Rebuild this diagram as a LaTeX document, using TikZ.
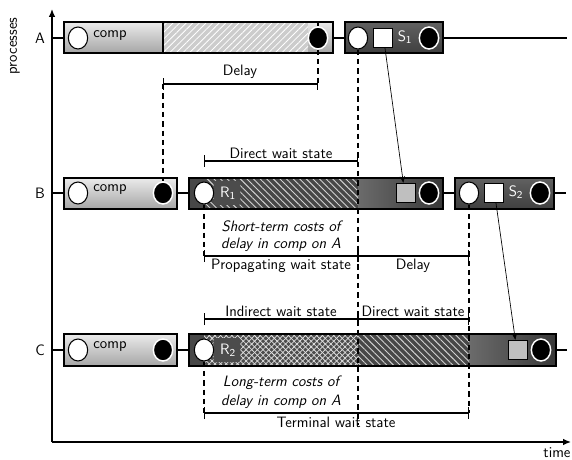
\documentclass[tikz,border=0pt]{standalone}
\usetikzlibrary{patterns,patterns.meta,arrows.meta,shapes.geometric}
\begin{document}
\begin{tikzpicture}[x=0.75pt,y=-0.75pt,
  every node/.style={font=\sffamily\fontsize{11.3}{13}\selectfont},
  boxline/.style={draw=black, line width=0.9pt},
  wcirc/.style={ellipse, draw=black, fill=white, line width=0.8pt, minimum width=14.5pt, minimum height=16.5pt, inner sep=0pt},
  bcirc/.style={ellipse, draw=white, fill=black, line width=1.1pt, minimum width=14.5pt, minimum height=16.5pt, inner sep=0pt},
  wsq/.style={rectangle, draw=black, fill=white, line width=0.8pt, minimum size=14.5pt, inner sep=0pt},
  gsq/.style={wsq, fill=black!25},
  dim/.style={{Bar[width=9pt]}-{Bar[width=9pt]}, line width=0.9pt},
  vdash/.style={dash pattern=on 4pt off 3pt, line width=0.8pt},
  conn/.style={line width=0.9pt},
  msg/.style={-{Stealth[length=5pt,width=4pt]}, line width=0.5pt},
  lbl/.style={inner sep=1pt},
  wlbl/.style={inner sep=1pt, text=white},
  rbg/.style={fill=black!70, rounded corners=1pt, minimum width=20pt, minimum height=18pt, inner sep=0pt},
  ilbl/.style={inner sep=1pt, font=\sffamily\itshape\fontsize{11.3}{13}\selectfont}
]
\useasboundingbox (0,0) rectangle (572,460);

% axes
\coordinate (O) at (52,442);
\coordinate (Ytop) at (52,9);
\coordinate (Xend) at (571,442);
\draw[line width=1pt,-{Latex[length=6pt,width=5pt]}] (O) -- (Ytop);
\draw[line width=1pt,-{Latex[length=6pt,width=5pt]}] (O) -- (Xend);
\node[lbl,rotate=90] (ylab) at (15,46) {processes};
\node[lbl] (xlab) at (557,453) {time};

% row labels and ticks
\node[lbl] (rA) at (40,38) {A};
\node[lbl] (rB) at (40,193) {B};
\node[lbl] (rC) at (40,350) {C};
\draw[conn] (52,38) -- (64,38);
\draw[conn] (52,193) -- (64,193);
\draw[conn] (52,350) -- (64,350);

% ================= Row A boxes
\shade[top color=black!8, bottom color=black!35] (64,22) rectangle (333,53);
\fill[black!20] (163,22) rectangle (308,53);
\fill[pattern={Lines[angle=45,distance=3.5pt,line width=0.6pt]}, pattern color=white] (163,22) rectangle (308,53);
\draw[boxline] (64,22) rectangle (333,53);
\draw[boxline] (163,22) -- (163,53);
\draw[conn] (333,38) -- (345,38);
\shade[top color=black!62, bottom color=black!75] (345,22) rectangle (443,53);
\draw[boxline] (345,22) rectangle (443,53);
\draw[conn] (443,38) -- (567,38);

% ================= Row B boxes
\shade[top color=black!8, bottom color=black!35] (64,178) rectangle (177,209);
\draw[boxline] (64,178) rectangle (177,209);
\draw[conn] (177,193) -- (189,193);
\fill[black!72] (189,178) rectangle (358,209);
\fill[pattern={Lines[angle=-45,distance=3.5pt,line width=0.7pt]}, pattern color=black!18] (204,178) rectangle (358,209);
\shade[left color=black!58, right color=black!78] (358,178) rectangle (443,209);
\draw[boxline] (189,178) rectangle (443,209);
\draw[conn] (443,193) -- (455,193);
\shade[top color=black!62, bottom color=black!75] (455,178) rectangle (554,209);
\draw[boxline] (455,178) rectangle (554,209);
\draw[conn] (554,193) -- (566,193);

% ================= Row C boxes
\shade[top color=black!8, bottom color=black!35] (64,334) rectangle (177,366);
\draw[boxline] (64,334) rectangle (177,366);
\draw[conn] (177,350) -- (189,350);
\fill[black!72] (189,334) rectangle (204,366);
\fill[black!70] (204,334) rectangle (358,366);
\fill[pattern={Lines[angle=45,distance=3pt,line width=0.55pt]}, pattern color=black!12] (204,334) rectangle (358,366);
\fill[pattern={Lines[angle=-45,distance=3pt,line width=0.55pt]}, pattern color=black!12] (204,334) rectangle (358,366);
\fill[black!72] (358,334) rectangle (469,366);
\fill[pattern={Lines[angle=-45,distance=3.5pt,line width=0.7pt]}, pattern color=black!18] (358,334) rectangle (469,366);
\shade[left color=black!58, right color=black!78] (469,334) rectangle (556,366);
\draw[boxline] (189,334) rectangle (556,366);
\draw[conn] (556,350) -- (567,350);

% ================= nodes (circles, squares, labels)
% Row A
\node[wcirc] (Aw) at (78,38) {};
\node[lbl] (Acomp) at (110,36) {comp};
\node[bcirc] (Ab) at (318,38) {};
\node[wcirc] (S1w) at (358,38) {};
\node[wsq] (S1sq) at (383,38) {};
\node[wlbl] (S1lbl) at (405,37) {S\textsubscript{1}};
\node[bcirc] (S1b) at (429,38) {};

% Row B
\node[wcirc] (Bw) at (78,193) {};
\node[lbl] (Bcomp) at (110,190) {comp};
\node[bcirc] (Bb) at (163,193) {};
\node[rbg] (R1bg) at (227,193) {};
\node[wcirc] (R1w) at (204,193) {};
\node[wlbl] (R1lbl) at (228,193) {R\textsubscript{1}};
\node[gsq] (Bsq) at (406,193) {};
\node[bcirc] (Bb2) at (429,193) {};
\node[wcirc] (S2w) at (469,193) {};
\node[wsq] (S2sq) at (494,193) {};
\node[wlbl] (S2lbl) at (516,192) {S\textsubscript{2}};
\node[bcirc] (S2b) at (540,193) {};

% Row C
\node[wcirc] (Cw) at (78,350) {};
\node[lbl] (Ccomp) at (110,347) {comp};
\node[bcirc] (Cb) at (163,350) {};
\node[rbg] (R2bg) at (227,350) {};
\node[wcirc] (R2w) at (204,350) {};
\node[wlbl] (R2lbl) at (228,350) {R\textsubscript{2}};
\node[gsq] (Csq) at (518,350) {};
\node[bcirc] (Cb2) at (541,350) {};

% ================= dimension bars and their coordinates
\coordinate (dA1) at (163,84);
\coordinate (dA2) at (318,84);
\coordinate (dB1) at (204,161);
\coordinate (dB2) at (358,161);
\coordinate (pB1) at (204,256);
\coordinate (pB2) at (358,256);
\coordinate (pB3) at (469,256);
\coordinate (dC1) at (204,319);
\coordinate (dC2) at (358,319);
\coordinate (dC3) at (469,319);
\coordinate (tC1) at (204,413);
\coordinate (tC2) at (469,413);
\coordinate (end358) at (358,425);
\coordinate (top318) at (318,22);

% dashed guide lines
\draw[vdash] (dA1) -- (Bb.north);
\draw[vdash] (top318) -- (Ab.north);
\draw[vdash] (Ab.south) -- (dA2);
\draw[vdash] (S1w.south) -- (end358);
\draw[vdash] (R1w.south) -- (pB1);
\draw[vdash] (R2w.south) -- (tC1);
\draw[vdash] (S2w.south) -- (tC2);

\draw[dim] (dA1) -- (dA2);
\node[lbl] (tDelayA) at (240,72) {Delay};
\draw[dim] (dB1) -- (dB2);
\node[lbl] (tDirB) at (281,153) {Direct wait state};
\draw[dim] (pB1) -- (pB2);
\draw[dim] (pB2) -- (pB3);
\node[lbl] (tProp) at (281,266) {Propagating wait state};
\node[lbl] (tDelayB) at (413,266) {Delay};
\node[ilbl] (tST1) at (281,226) {Short-term costs of};
\node[ilbl] (tST2) at (281,245) {delay in comp on A};
\draw[dim] (dC1) -- (dC2);
\draw[dim] (dC2) -- (dC3);
\node[lbl] (tInd) at (281,311) {Indirect wait state};
\node[lbl] (tDirC) at (413,311) {Direct wait state};
\node[ilbl] (tLT1) at (281,383) {Long-term costs of};
\node[ilbl] (tLT2) at (281,402) {delay in comp on A};
\draw[dim] (tC1) -- (tC2);
\node[lbl] (tTerm) at (336,422) {Terminal wait state};

% messages
\draw[msg] ([xshift=1.5pt]S1sq.south) -- ([xshift=-2pt]Bsq.north);
\draw[msg] ([xshift=1.5pt]S2sq.south) -- ([xshift=-2pt]Csq.north);
\end{tikzpicture}
\end{document}
